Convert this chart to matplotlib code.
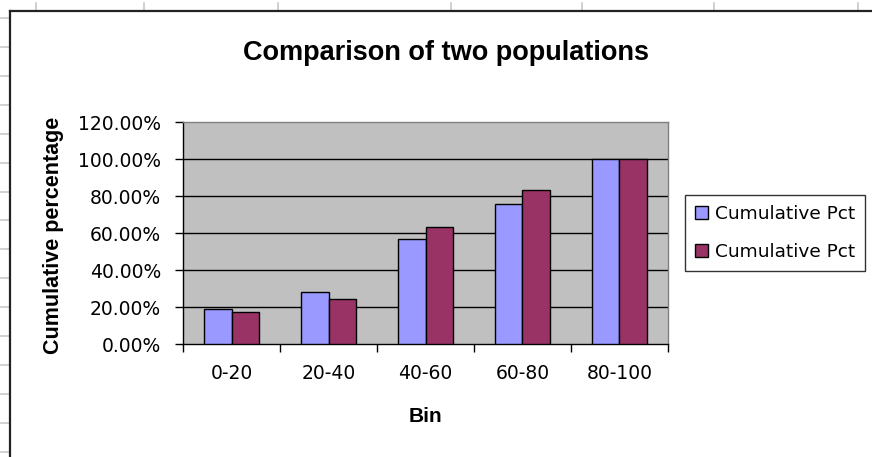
import matplotlib
matplotlib.use("Agg")
import matplotlib.pyplot as plt
from matplotlib.lines import Line2D
from matplotlib.patches import Patch
from matplotlib.ticker import FuncFormatter, FixedLocator
import numpy as np

# ---- data ----
bins = ["0-20", "20-40", "40-60", "60-80", "80-100"]
pop1_cum_pct = [0.189, 0.283, 0.568, 0.760, 1.000]
pop2_cum_pct = [0.173, 0.245, 0.632, 0.834, 1.000]
series_labels = ["Cumulative Pct", "Cumulative Pct"]
title = "Comparison of two populations"
x_label = "Bin"
y_label = "Cumulative percentage"

W, H = 872, 457
fig = plt.figure(figsize=(W / 100, H / 100), dpi=100)
fig.patch.set_facecolor("white")

# spreadsheet frame decorations
def fx(px):
    return px / W
def fy(py):
    return 1 - py / H

for xp in [36, 144, 278, 451, 582, 714, 858]:
    fig.add_artist(Line2D([fx(xp), fx(xp)], [fy(3), fy(11)], color="#c8c8c8", lw=1.2))
for yp in [18, 47, 76, 105, 134, 163, 192, 220, 249, 278, 307, 336, 365, 394, 423, 452]:
    fig.add_artist(Line2D([fx(1), fx(9)], [fy(yp), fy(yp)], color="#c8c8c8", lw=1.2))
fig.add_artist(Line2D([fx(10), fx(W)], [fy(11), fy(11)], color="#222222", lw=1.6))
fig.add_artist(Line2D([fx(10), fx(10)], [fy(11), fy(H)], color="#222222", lw=1.6))

# axes
left, right, top, bottom = 183.3, 667.7, 122.3, 344.3
ax = fig.add_axes([left / W, 1 - bottom / H, (right - left) / W, (bottom - top) / H])
ax.set_facecolor("#C0C0C0")

x = np.arange(len(bins))
w = 1 / 3.5
ax.bar(x - w / 2, pop1_cum_pct, width=w, color="#9999FF", edgecolor="black", linewidth=1.0, zorder=3)
ax.bar(x + w / 2, pop2_cum_pct, width=w, color="#993366", edgecolor="black", linewidth=1.0, zorder=3)

ax.set_xlim(-0.5, len(bins) - 0.5)
ax.set_ylim(0, 1.2)

yt = np.arange(0, 1.21, 0.2)
ax.set_yticks(yt)
ax.yaxis.set_major_formatter(FuncFormatter(lambda v, p: f"{v*100:.2f}%"))
for v in yt[1:-1]:
    ax.axhline(v, color="black", lw=1.0, zorder=1)

ax.set_xticks(x)
ax.set_xticklabels(bins)
ax.xaxis.set_minor_locator(FixedLocator(np.arange(-0.5, len(bins), 1.0)))
ax.tick_params(axis="x", which="major", length=0, pad=14, labelsize=13.5)
ax.tick_params(axis="x", which="minor", length=6, width=1.0, direction="out", color="black")
ax.tick_params(axis="y", which="major", length=6, width=1.0, direction="out", pad=10, labelsize=13.5, color="black")
for lab in ax.get_xticklabels() + ax.get_yticklabels():
    lab.set_fontfamily("DejaVu Sans")
    lab.set_color("black")

for s in ["left", "bottom"]:
    ax.spines[s].set_color("black")
    ax.spines[s].set_linewidth(1.0)
for s in ["top", "right"]:
    ax.spines[s].set_color("#808080")
    ax.spines[s].set_linewidth(1.0)

ax.set_xlabel(x_label, fontsize=15, fontweight="bold", fontfamily="Liberation Sans", va="center")
ax.xaxis.set_label_coords(0.5, -(417 - bottom) / (bottom - top))
ax.set_ylabel(y_label, fontsize=15.5, fontweight="bold", fontfamily="Liberation Sans", va="center", ha="center")
ax.yaxis.set_label_coords((53.5 - left) / (right - left), (bottom - 235) / (bottom - top))

fig.text(fx(446), fy(53), title, fontsize=19.5, fontweight="bold", fontfamily="Liberation Sans",
         ha="center", va="center")

handles = [Patch(facecolor="#9999FF", edgecolor="black", linewidth=1.0),
           Patch(facecolor="#993366", edgecolor="black", linewidth=1.0)]
leg = fig.legend(handles, series_labels, loc="upper left", bbox_to_anchor=(fx(685), fy(195)),
                 prop={"family": "DejaVu Sans", "size": 13.3}, frameon=True, fancybox=False,
                 handlelength=0.7, handleheight=0.7, handletextpad=0.35, labelspacing=1.05,
                 borderpad=0.55, borderaxespad=0, edgecolor="black")
leg.get_frame().set_linewidth(1.0)

fig.savefig("out.png", dpi=100, facecolor="white")
